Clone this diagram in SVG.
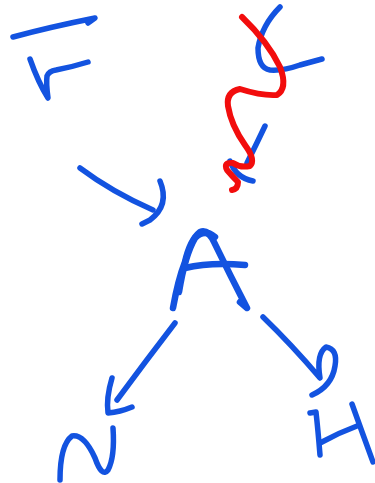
<svg xmlns="http://www.w3.org/2000/svg" width="375" height="483" viewBox="0 0 375 483">
<style>
.b{fill:none;stroke:#1353e0;stroke-width:5.5;stroke-linecap:round;stroke-linejoin:round}
.t{stroke-width:6.5}
.r{fill:none;stroke:#f20d0d;stroke-width:6;stroke-linecap:round;stroke-linejoin:round}
</style>
<rect width="375" height="483" fill="#fff"/>
<g id="node-F">
<path class="b" d="M13,37 Q50,27 95,18 L88,23"/>
<path class="b" d="M30,59 Q38,82 48,98 Q46,84 47,76 Q49,71 56,70 Q72,67 88,62"/>
</g>
<g id="node-X">
<path class="b" d="M280,7 Q262,25 258,48 Q258,68 270,70 Q283,71 300,65 L322,59"/>
<path class="b" d="M265,126 Q256,145 247,163"/>
<path class="b" d="M230,161 Q236,178 253,181"/>
<path class="r" d="M242,17 Q268,42 280,67 Q288,88 277,95 Q262,96 240,89 Q226,92 228,106 Q231,125 245,145 Q256,160 250,166 Q240,168 233,163 Q223,162 227,170 Q233,177 238,182 Q238,189 232,190"/>
</g>
<g id="node-A">
<path class="b t" d="M173,308 Q178,280 185,262 Q190,240 200,232 Q208,229 214,242 Q230,275 247,308 L240,302"/>
<path class="b t" d="M179,292 Q185,255 195,238 Q204,228 215,237"/>
<path class="b t" d="M185,268 Q210,262 245,265"/>
</g>
<g id="node-N">
<path class="b" d="M60,480 Q60,445 72,436 Q84,434 95,458 Q102,478 108,470 Q115,457 113,428"/>
</g>
<g id="node-H">
<path class="b" d="M310,413 L316,412 Q318,430 320,455"/>
<path class="b" d="M320,443 Q338,433 357,426"/>
<path class="b" d="M352,404 Q362,432 373,462"/>
</g>
<g id="connectors">
<path class="b" d="M80,168 Q112,192 153,210"/>
<path class="b" d="M160,181 Q170,205 150,220 L142,224"/>
<path class="b" d="M175,323 Q145,362 117,400"/>
<path class="b" d="M112,378 Q106,398 108,413 Q120,412 132,407"/>
<path class="b" d="M263,317 Q292,345 320,378 Q316,354 326,347 Q338,349 335,366 Q332,386 312,395"/>
</g>
</svg>
